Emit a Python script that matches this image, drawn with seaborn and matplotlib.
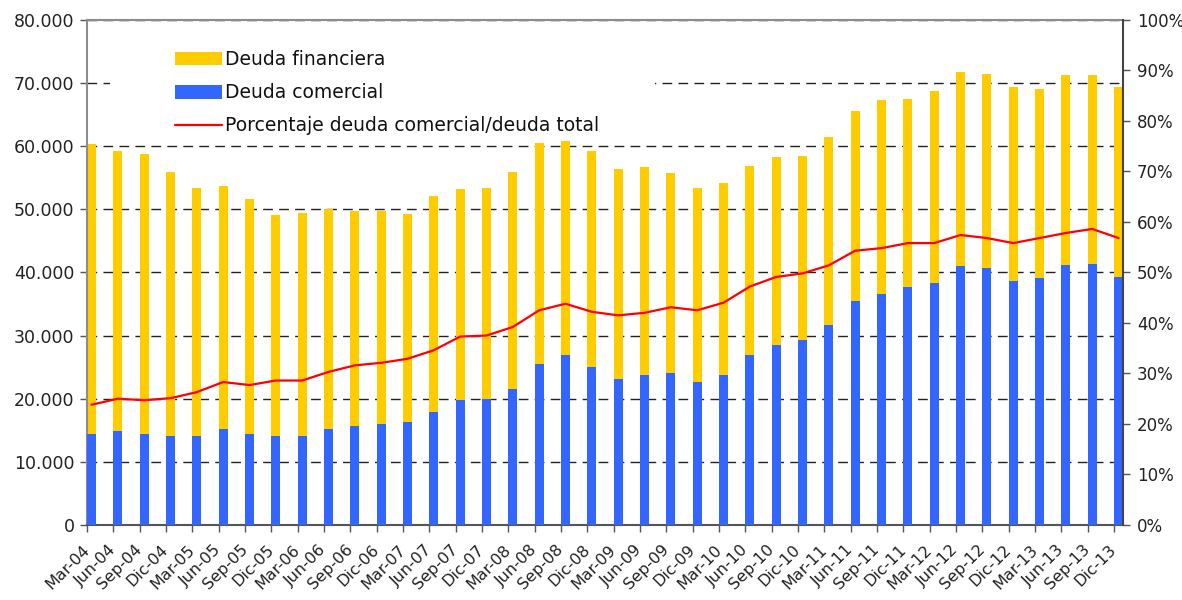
import numpy as np
import pandas as pd
import matplotlib
matplotlib.use("Agg")
import matplotlib.pyplot as plt
from matplotlib.ticker import FuncFormatter, MultipleLocator
from matplotlib.patches import Patch, Rectangle
from matplotlib.lines import Line2D
from matplotlib.transforms import ScaledTranslation
import seaborn as sns

# ---------------- data ----------------
quarters = [
    "Mar-04", "Jun-04", "Sep-04", "Dic-04", "Mar-05", "Jun-05", "Sep-05", "Dic-05",
    "Mar-06", "Jun-06", "Sep-06", "Dic-06", "Mar-07", "Jun-07", "Sep-07", "Dic-07",
    "Mar-08", "Jun-08", "Sep-08", "Dic-08", "Mar-09", "Jun-09", "Sep-09", "Dic-09",
    "Mar-10", "Jun-10", "Sep-10", "Dic-10", "Mar-11", "Jun-11", "Sep-11", "Dic-11",
    "Mar-12", "Jun-12", "Sep-12", "Dic-12", "Mar-13", "Jun-13", "Sep-13", "Dic-13",
]
# total debt (top of yellow bar)
deuda_total = [
    60260, 59280, 58670, 55830, 53430, 53750, 51680, 49160,
    49430, 50090, 49760, 49760, 49320, 52170, 53260, 53430,
    55830, 60420, 60860, 59280, 56430, 56760, 55670, 53430,
    54080, 56920, 58350, 58510, 61520, 65510, 67260, 67420,
    68680, 71690, 71360, 69280, 69010, 71200, 71200, 69280,
]
# deuda comercial (blue part)
deuda_comercial = [
    14380, 14820, 14380, 14050, 14050, 15150, 14380, 14050,
    14050, 15150, 15640, 15970, 16300, 17880, 19740, 19900,
    21490, 25480, 26900, 24990, 23080, 23730, 24060, 22640,
    23730, 26900, 28490, 29310, 31660, 35490, 36580, 37620,
    38330, 41070, 40630, 38660, 39150, 41180, 41340, 39320,
]
# porcentaje deuda comercial / deuda total (right axis, %)
porcentaje = [
    23.8, 25.0, 24.7, 25.1, 26.3, 28.3, 27.7, 28.6,
    28.6, 30.3, 31.6, 32.1, 32.9, 34.6, 37.3, 37.5,
    39.2, 42.5, 43.8, 42.2, 41.5, 42.0, 43.1, 42.5,
    44.0, 47.2, 49.1, 49.8, 51.4, 54.3, 54.8, 55.8,
    55.8, 57.4, 56.8, 55.8, 56.8, 57.8, 58.6, 56.8,
]

YELLOW = "#FFCC00"
BLUE = "#3366FF"
RED = "#FF0000"

df = pd.DataFrame({"trimestre": quarters, "total": deuda_total,
                   "comercial": deuda_comercial, "pct": porcentaje})
df["pos"] = np.arange(len(df))

# ---------------- style ----------------
sns.set_theme(style="white")
plt.rcParams["font.family"] = ["DejaVu Sans"]

fig = plt.figure(figsize=(11.82, 6.0), dpi=100)
ax = fig.add_axes([0.0736, 0.125, 0.8765, 0.842])

BW = 0.34
sns.barplot(data=df, x="trimestre", y="total", color=YELLOW, width=BW,
            saturation=1, ax=ax, zorder=2, order=quarters, linewidth=0)
sns.barplot(data=df, x="trimestre", y="comercial", color=BLUE, width=BW,
            saturation=1, ax=ax, zorder=3, order=quarters, linewidth=0)

n = len(quarters)
ax.set_xlim(-BW / 2, n - 1 + BW / 2)
ax.set_ylim(0, 80000)
ax.yaxis.set_major_locator(MultipleLocator(10000))
ax.yaxis.set_major_formatter(FuncFormatter(lambda v, p: f"{int(v):,}".replace(",", ".")))
ax.set_xticks(np.arange(n) - BW / 2)
ax.set_xticklabels(quarters, rotation=45, ha="right", va="center",
                   rotation_mode="anchor", fontsize=11.5)
shift = ScaledTranslation(-4 / 100, 0, fig.dpi_scale_trans)
for lbl in ax.get_xticklabels():
    lbl.set_transform(lbl.get_transform() + shift)
ax.set_xlabel("")
ax.set_ylabel("")

# dashed gridlines behind bars
ax.set_axisbelow(True)
ax.yaxis.grid(True, linestyle=(0, (7, 4.5)), color="#222222", linewidth=1.0, zorder=0)
ax.xaxis.grid(False)

ax.tick_params(axis="y", which="major", left=True, length=5, width=1,
               color="#555555", labelsize=12.5, pad=4, labelcolor="#222222")
ax.tick_params(axis="x", which="major", bottom=True, length=5, width=1,
               color="#555555", labelsize=11.5, pad=11, labelcolor="#222222")

for side in ["top", "left"]:
    ax.spines[side].set_color("#8c8c8c")
    ax.spines[side].set_linewidth(1.5)
ax.spines["bottom"].set_color("#555555")
ax.spines["bottom"].set_linewidth(1.5)
ax.spines["right"].set_visible(False)

# secondary axis: percentage
ax2 = ax.twinx()
sns.lineplot(data=df, x="pos", y="pct", color=RED, linewidth=1.6, ax=ax2, zorder=5)
ax2.set_ylim(0, 100)
ax2.set_xlim(-BW / 2, n - 1 + BW / 2)
ax2.yaxis.set_major_locator(MultipleLocator(10))
ax2.yaxis.set_major_formatter(FuncFormatter(lambda v, p: f"{int(round(v))}%"))
ax2.set_ylabel("")
ax2.set_xlabel("")
ax2.tick_params(axis="y", right=True, length=5, width=1, color="#555555",
                labelsize=12, pad=5, labelcolor="#222222")
ax2.spines["right"].set_color("#444444")
ax2.spines["right"].set_linewidth(1.5)
for side in ["top", "left", "bottom"]:
    ax2.spines[side].set_visible(False)
ax2.grid(False)

# white legend background (hides part of the top gridline)
ax.add_patch(Rectangle((0.022, 0.775), 0.526, 0.19, transform=ax.transAxes,
                       facecolor="white", edgecolor="none", zorder=1))

handles = [
    Patch(facecolor=YELLOW, edgecolor="none"),
    Patch(facecolor=BLUE, edgecolor="none"),
    Line2D([0], [0], color=RED, linewidth=1.6),
]
labels = ["Deuda financiera", "Deuda comercial", "Porcentaje deuda comercial/deuda total"]
leg = ax2.legend(handles, labels, loc="upper left", bbox_to_anchor=(0.085, 0.94),
                 frameon=False, fontsize=13.5, handlelength=2.5, handleheight=0.75,
                 handletextpad=0.15, labelspacing=0.75, borderpad=0, borderaxespad=0)
for t in leg.get_texts():
    t.set_color("#111111")

fig.savefig("out.png", dpi=100)
